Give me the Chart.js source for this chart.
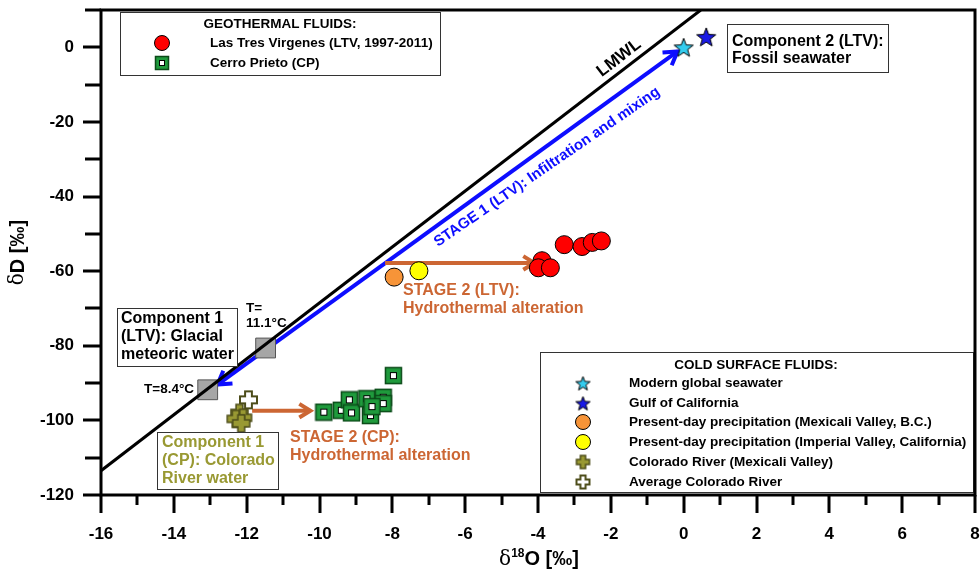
<!DOCTYPE html>
<html>
<head>
<meta charset="utf-8">
<script src="https://cdn.jsdelivr.net/npm/chart.js@4.4.1/dist/chart.umd.min.js"></script>
<style>
html,body{margin:0;padding:0;background:#fff}
</style>
</head>
<body>
<canvas id="chart" width="980" height="572"></canvas>
<script>
// values (d18O, dD in permil)
const ltvX = [-3.89, -3.99, -3.66, -3.28, -2.79, -2.51, -2.26];
const ltvY = [-57.2, -59.1, -59.1, -52.9, -53.4, -52.3, -51.9];

const cpX = [-7.97, -9.88, -9.40, -9.18, -9.12, -8.70, -8.60, -8.25, -8.25, -8.56];
const cpY = [-88.0, -97.8, -97.3, -94.5, -98.0, -94.2, -98.7, -93.8, -95.5, -96.3];

const seaX = [0.0],   seaY = [0.0];          // modern global seawater
const gulfX = [0.62], gulfY = [2.8];         // Gulf of California
const mexPrecX = [-7.95], mexPrecY = [-61.6];
const impPrecX = [-7.27], impPrecY = [-59.9];
const coloX = [-12.2, -12.1, -12.3, -12.15];
const coloY = [-98.0, -99.3, -99.6, -100.8];
const avgColoX = [-11.95], avgColoY = [-94.5];
const glacialX = [-13.07, -11.48];
const glacialY = [-91.8, -80.6];

const lmwlX = [-16, 0.47];
const lmwlY = [-113.5, 10];

const mixArrowX = [-12.8, -0.17], mixArrowY = [-90.4, -1.1];
const ltvArrowX = [-8.2, -4.1],   ltvArrowY = [-57.8, -57.8];
const cpArrowX = [-11.85, -10.25], cpArrowY = [-97.4, -97.4];

const xTicks = {min: -16, max: 8, step: 1};
const yTicks = {min: -120, max: 10, step: 10};

const FONT = "'Liberation Sans', Arial, sans-serif";
const ORANGE = "#cc6633";
const OLIVE = "#999933";
const BLUE = "#0d0dff";

const pts = (xs, ys) => xs.map((x, i) => ({x: x, y: ys[i]}));

function starImg(fill, r){
  const s = Math.ceil(r*2 + 4), c = document.createElement("canvas");
  c.width = c.height = s;
  const g = c.getContext("2d"), m = s/2;
  g.beginPath();
  for(let i=0;i<10;i++){
    const a = -Math.PI/2 + i*Math.PI/5, rr = i%2 ? r*0.42 : r;
    g.lineTo(m + rr*Math.cos(a), m + 1 + rr*Math.sin(a));
  }
  g.closePath();
  g.fillStyle = fill; g.fill();
  g.lineWidth = 1; g.strokeStyle = "#000"; g.stroke();
  return c;
}

function crossImg(fill, stroke, size, lw){
  const s = size + 4, c = document.createElement("canvas");
  c.width = c.height = s;
  const g = c.getContext("2d"), m = s/2, a = size/2, w = size*0.2;
  g.beginPath();
  g.moveTo(m-w, m-a); g.lineTo(m+w, m-a); g.lineTo(m+w, m-w); g.lineTo(m+a, m-w);
  g.lineTo(m+a, m+w); g.lineTo(m+w, m+w); g.lineTo(m+w, m+a); g.lineTo(m-w, m+a);
  g.lineTo(m-w, m+w); g.lineTo(m-a, m+w); g.lineTo(m-a, m-w); g.lineTo(m-w, m-w);
  g.closePath();
  g.fillStyle = fill; g.fill();
  g.lineWidth = lw; g.strokeStyle = stroke; g.stroke();
  return c;
}

function cpImg(size){
  const s = size + 2, c = document.createElement("canvas");
  c.width = c.height = s;
  const g = c.getContext("2d"), o = 1, inner = Math.round(size*0.42);
  g.fillStyle = "#1f9a3c"; g.fillRect(o, o, size, size);
  g.lineWidth = 1.5; g.strokeStyle = "#0b4a18"; g.strokeRect(o+0.5, o+0.5, size-1, size-1);
  const p = o + (size - inner)/2;
  g.fillStyle = "#fff"; g.fillRect(p, p, inner, inner);
  g.lineWidth = 1; g.strokeStyle = "#000"; g.strokeRect(p+0.5, p+0.5, inner-1, inner-1);
  return c;
}

const seaStar = starImg("#33ccee", 10);
const gulfStar = starImg("#1a1ae6", 10);
const coloCross = crossImg(OLIVE, "#4d4d1a", 17, 1.5);
const avgCross = crossImg("#fff", "#4d4d1a", 17, 2);
const cpSquare = cpImg(17);

function arrow(ctx, x1, y1, x2, y2, color, w, head, both){
  ctx.save();
  ctx.strokeStyle = color; ctx.lineWidth = w; ctx.lineCap = "butt"; ctx.lineJoin = "miter";
  ctx.beginPath(); ctx.moveTo(x1, y1); ctx.lineTo(x2, y2); ctx.stroke();
  const tip = (x, y, a) => {
    ctx.beginPath();
    ctx.moveTo(x - head*Math.cos(a-0.55), y - head*Math.sin(a-0.55));
    ctx.lineTo(x, y);
    ctx.lineTo(x - head*Math.cos(a+0.55), y - head*Math.sin(a+0.55));
    ctx.stroke();
  };
  const ang = Math.atan2(y2-y1, x2-x1);
  tip(x2, y2, ang);
  if(both) tip(x1, y1, ang + Math.PI);
  ctx.restore();
}

function lines(ctx, arr, x, y0, lh){
  arr.forEach((t, i) => ctx.fillText(t, x, y0 + i*lh));
}

function box(ctx, x, y, w, h){
  ctx.fillStyle = "#fff"; ctx.fillRect(x, y, w, h);
  ctx.lineWidth = 1; ctx.strokeStyle = "#333"; ctx.strokeRect(x+0.5, y+0.5, w, h);
}

const decor = {
  id: "decor",
  beforeDatasetsDraw(chart){
    const ctx = chart.ctx, sx = chart.scales.x, sy = chart.scales.y;
    const P = (xs, ys) => [sx.getPixelForValue(xs[0]), sy.getPixelForValue(ys[0]), sx.getPixelForValue(xs[1]), sy.getPixelForValue(ys[1])];
    let a = P(mixArrowX, mixArrowY);
    arrow(ctx, a[0], a[1], a[2], a[3], BLUE, 4, 15, true);
    a = P(ltvArrowX, ltvArrowY);
    arrow(ctx, a[0], a[1], a[2], a[3], ORANGE, 4, 13, false);
    a = P(cpArrowX, cpArrowY);
    arrow(ctx, a[0], a[1], a[2], a[3], ORANGE, 4, 13, false);
  },
  afterDatasetsDraw(chart){
    const ctx = chart.ctx, sx = chart.scales.x, sy = chart.scales.y;
    ctx.save();
    ctx.textBaseline = "middle"; ctx.textAlign = "left";

    // LMWL label along the line
    const ang = Math.atan2(sy.getPixelForValue(lmwlY[1]) - sy.getPixelForValue(lmwlY[0]),
                           sx.getPixelForValue(lmwlX[1]) - sx.getPixelForValue(lmwlX[0]));
    ctx.save();
    ctx.translate(619, 58); ctx.rotate(ang);
    ctx.textAlign = "center"; ctx.fillStyle = "#000"; ctx.font = "bold 17px " + FONT;
    ctx.fillText("LMWL", 0, 0);
    ctx.restore();

    ctx.save();
    ctx.translate(547, 167); ctx.rotate(-34.5*Math.PI/180);
    ctx.textAlign = "center"; ctx.fillStyle = BLUE; ctx.font = "bold 15px " + FONT;
    ctx.fillText("STAGE 1 (LTV): Infiltration and mixing", 0, 0);
    ctx.restore();

    ctx.fillStyle = ORANGE; ctx.font = "bold 16px " + FONT;
    lines(ctx, ["STAGE 2 (LTV):", "Hydrothermal alteration"], 403, 291, 18);
    lines(ctx, ["STAGE 2 (CP):", "Hydrothermal alteration"], 290, 438, 18);

    box(ctx, 727, 24, 161, 48);
    ctx.fillStyle = "#000"; ctx.font = "bold 16px " + FONT;
    lines(ctx, ["Component 2 (LTV):", "Fossil seawater"], 732, 42, 17);

    box(ctx, 117, 308, 120, 58);
    ctx.fillStyle = "#000"; ctx.font = "bold 16px " + FONT;
    lines(ctx, ["Component 1", "(LTV): Glacial", "meteoric water"], 121, 319, 18);

    box(ctx, 157, 432, 121, 57);
    ctx.fillStyle = OLIVE; ctx.font = "bold 16px " + FONT;
    lines(ctx, ["Component 1", "(CP): Colorado", "River water"], 162, 443, 18);

    ctx.fillStyle = "#000"; ctx.font = "bold 13.5px " + FONT;
    lines(ctx, ["T=", "11.1\u00b0C"], 246, 308, 15);
    ctx.fillText("T=8.4\u00b0C", 144, 389);

    // legend: geothermal fluids
    box(ctx, 120, 12, 320, 63);
    ctx.font = "bold 13.5px " + FONT; ctx.fillStyle = "#000";
    ctx.textAlign = "center"; ctx.fillText("GEOTHERMAL FLUIDS:", 280, 24);
    ctx.textAlign = "left";
    ctx.fillText("Las Tres Virgenes (LTV, 1997-2011)", 210, 43);
    ctx.fillText("Cerro Prieto (CP)", 210, 63);
    ctx.beginPath(); ctx.arc(162, 43, 7.5, 0, Math.PI*2);
    ctx.fillStyle = "#ff0000"; ctx.fill(); ctx.lineWidth = 1; ctx.strokeStyle = "#000"; ctx.stroke();
    ctx.drawImage(cpImg(14), 162-8, 63-8);

    // legend: cold surface fluids
    box(ctx, 540, 352, 433, 140);
    ctx.fillStyle = "#000"; ctx.textAlign = "center";
    ctx.fillText("COLD SURFACE FLUIDS:", 756, 365);
    ctx.textAlign = "left";
    const rows = ["Modern global seawater", "Gulf of California",
      "Present-day precipitation (Mexicali Valley, B.C.)",
      "Present-day precipitation (Imperial Valley, California)",
      "Colorado River (Mexicali Valley)", "Average Colorado River"];
    const ry = [383, 403, 422, 442, 462, 482];
    rows.forEach((t, i) => ctx.fillText(t, 629, ry[i]));
    const mk = [starImg("#33ccee", 7.5), starImg("#1a1ae6", 7.5), null, null,
      crossImg(OLIVE, "#4d4d1a", 13, 1.5), crossImg("#fff", "#4d4d1a", 13, 2)];
    const fills = [null, null, "#f79438", "#ffff00"];
    mk.forEach((m, i) => {
      if(m){ ctx.drawImage(m, 583 - m.width/2, ry[i] - m.height/2); }
      else {
        ctx.beginPath(); ctx.arc(583, ry[i], 7.5, 0, Math.PI*2);
        ctx.fillStyle = fills[i]; ctx.fill(); ctx.lineWidth = 1; ctx.strokeStyle = "#000"; ctx.stroke();
      }
    });
    ctx.restore();
  },
  afterDraw(chart){
    const ctx = chart.ctx, a = chart.chartArea, sx = chart.scales.x, sy = chart.scales.y;
    ctx.save();
    ctx.strokeStyle = "#000"; ctx.lineWidth = 3;
    ctx.strokeRect(a.left, a.top, a.right - a.left, a.bottom - a.top);
    ctx.beginPath();
    sx.ticks.forEach(t => {
      const px = Math.round(sx.getPixelForValue(t.value));
      ctx.moveTo(px, a.bottom); ctx.lineTo(px, a.bottom + (t.value % 2 === 0 ? 18 : 10));
    });
    sy.ticks.forEach(t => {
      const py = Math.round(sy.getPixelForValue(t.value));
      ctx.moveTo(a.left, py); ctx.lineTo(a.left - (t.value % 20 === 0 ? 18 : 16), py);
    });
    ctx.stroke();

    // x axis title with superscript
    ctx.fillStyle = "#000"; ctx.textBaseline = "alphabetic"; ctx.textAlign = "left";
    const f1 = "bold 20px " + FONT, f2 = "bold 12px " + FONT, f0 = "20px 'DejaVu Serif', serif";
    ctx.font = f0; const w0 = ctx.measureText("\u03b4").width;
    ctx.font = f2; const w1 = ctx.measureText("18").width;
    ctx.font = f1; const w2 = ctx.measureText("O [\u2030]").width;
    let x = (a.left + a.right)/2 - (w0 + w1 + w2)/2 + 1, y = 565;
    ctx.font = f0; ctx.fillText("\u03b4", x, y); x += w0;
    ctx.font = f2; ctx.fillText("18", x, y - 8); x += w1;
    ctx.font = f1; ctx.fillText("O [\u2030]", x, y);

    // y axis title
    ctx.translate(18, (a.top + a.bottom)/2); ctx.rotate(-Math.PI/2);
    ctx.textBaseline = "middle";
    ctx.font = f0; const v0 = ctx.measureText("\u03b4").width;
    ctx.font = f1; const v1 = ctx.measureText("D [\u2030]").width;
    let vx = -(v0 + v1)/2;
    ctx.font = f0; ctx.fillText("\u03b4", vx, 0); vx += v0;
    ctx.font = f1; ctx.fillText("D [\u2030]", vx, 0);
    ctx.restore();
  }
};

const ptDefaults = {showLine: false, borderWidth: 1, borderColor: "#000"};

new Chart(document.getElementById("chart"), {
  type: "scatter",
  data: {
    datasets: [
      {label: "LMWL", data: pts(lmwlX, lmwlY), showLine: true, borderColor: "#000", borderWidth: 3, pointRadius: 0},
      {...ptDefaults, label: "Glacial meteoric water", data: pts(glacialX, glacialY), pointStyle: "rect", pointRadius: 14, backgroundColor: "#a6a6a6", borderColor: "#555"},
      {...ptDefaults, label: "Present-day precipitation (Mexicali Valley, B.C.)", data: pts(mexPrecX, mexPrecY), pointRadius: 9, backgroundColor: "#f79438"},
      {...ptDefaults, label: "Present-day precipitation (Imperial Valley, California)", data: pts(impPrecX, impPrecY), pointRadius: 9, backgroundColor: "#ffff00"},
      {...ptDefaults, label: "Las Tres Virgenes (LTV, 1997-2011)", data: pts(ltvX, ltvY), pointRadius: 9, backgroundColor: "#ff0000"},
      {...ptDefaults, label: "Colorado River (Mexicali Valley)", data: pts(coloX, coloY), pointStyle: coloCross},
      {...ptDefaults, label: "Average Colorado River", data: pts(avgColoX, avgColoY), pointStyle: avgCross},
      {...ptDefaults, label: "Cerro Prieto (CP)", data: pts(cpX, cpY), pointStyle: cpSquare},
      {...ptDefaults, label: "Modern global seawater", data: pts(seaX, seaY), pointStyle: seaStar},
      {...ptDefaults, label: "Gulf of California", data: pts(gulfX, gulfY), pointStyle: gulfStar}
    ]
  },
  options: {
    responsive: false,
    animation: false,
    events: [],
    layout: {autoPadding: false, padding: {top: 10, right: 5, left: 0, bottom: 0}},
    plugins: {legend: {display: false}, tooltip: {enabled: false}},
    scales: {
      x: {
        type: "linear", min: xTicks.min, max: xTicks.max,
        grid: {display: false, drawTicks: true, tickLength: 18},
        border: {display: false},
        ticks: {stepSize: xTicks.step, autoSkip: false, maxRotation: 0, padding: 11, color: "#000",
          font: {family: FONT, size: 17, weight: "bold"},
          callback: v => (v % 2 === 0 ? String(v) : "")},
        afterFit: s => { s.height = 77; s.paddingLeft = 0; s.paddingRight = 0; }
      },
      y: {
        type: "linear", min: yTicks.min, max: yTicks.max,
        grid: {display: false, drawTicks: true, tickLength: 18},
        border: {display: false},
        ticks: {stepSize: yTicks.step, autoSkip: false, padding: 9, color: "#000",
          font: {family: FONT, size: 17, weight: "bold"},
          callback: v => (v % 20 === 0 ? String(v) : "")},
        afterFit: s => { s.width = 101; s.paddingTop = 0; s.paddingBottom = 0; }
      }
    }
  },
  plugins: [decor]
});
</script>
</body>
</html>
